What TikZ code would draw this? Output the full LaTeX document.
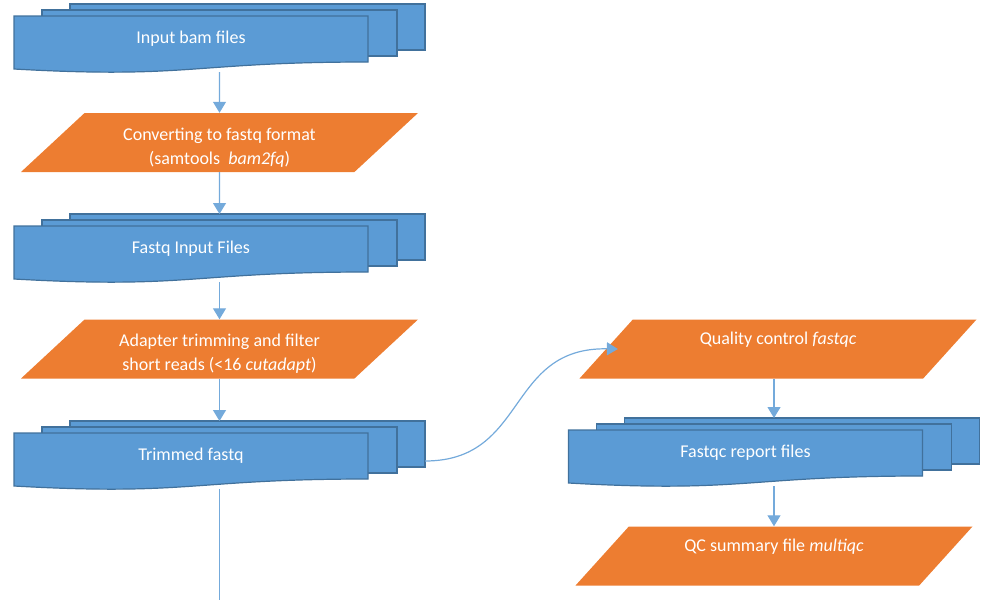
\documentclass[tikz,border=0pt]{standalone}
\usepackage{fontspec}
\setmainfont{Carlito}
\usetikzlibrary{arrows.meta, positioning, shapes.geometric}
\definecolor{docblue}{HTML}{5B9BD5}
\definecolor{docedge}{HTML}{41719C}
\definecolor{toolorange}{HTML}{ED7D31}
\newcommand{\labelfont}{\fontsize{18}{24}\selectfont}
\tikzset{
  docstack/.style={% invisible box round a stack of pages
    rectangle,
    minimum width=411pt,
    minimum height=68pt,
    inner sep=0pt,
    outer sep=0pt
    },
  page/.style={% one page of a stack
    draw=docedge,
    fill=docblue,
    line width=1.2pt
    },
  doctext/.style={% text on the front page
    text=white,
    font=\labelfont
    },
  tool/.style={% tool node
    trapezium,
    trapezium left angle=38,
    trapezium right angle=142,
    trapezium stretches body,
    minimum width=397pt,
    minimum height=59pt,
    fill=toolorange,
    text=white,
    font=\labelfont,
    align=center
    },
  toollow/.style={% two lines, set low
    tool,
    text height=43pt,
    text depth=0pt
    },
  toolhigh/.style={% one line, set high
    tool,
    text height=13pt,
    text depth=22pt
    },
  arrow/.style={% arrow format
    line width=1.2pt,
    draw=docblue!85!white,
    ->,
    >={Triangle[width=13pt,length=11pt]}
    }
}
\newcommand{\multidoc}[3]{% stack of pages: name, position, text
  \node[docstack] (#1) at (#2) {};
  \begin{scope}[shift={(#1.north west)}]
    \draw[page] (56,0) rectangle (411,46);
    \draw[page] (28,6) rectangle (383,52);
    \draw[page] (0,12) -- (354,12) -- (354,58)
      .. controls (177,58) and (177,75) .. (0,65) -- cycle;
    \node[doctext] (#1-text) at (177,35) {#3};
  \end{scope}
}

\begin{document}
\begin{tikzpicture}[x=1pt, y=-1pt]
\useasboundingbox (0,0) rectangle (987,600);

%%% Nodes
\multidoc{bam}{219.5,38}{Input bam files}
\node[toollow] (convert) at (219.5,142.5) {Converting to fastq format\\(samtools\ \ \emph{bam2fq})};
\multidoc{fastq}{219.5,248}{Fastq Input Files}
\node[toollow] (trim) at (219.5,349) {Adapter trimming and filter\\short reads (<16 \emph{cutadapt})};
\multidoc{trimmed}{219.5,455}{Trimmed fastq}
\coordinate (more) at (219.5,600);
\node[toolhigh] (qc) at (778,349) {Quality control \emph{fastqc}};
\multidoc{report}{774,452}{Fastqc report files}
\node[toolhigh] (summary) at (774,556) {QC summary file \emph{multiqc}};

%%% Arrows
\draw[arrow] (bam) -- (convert);
\draw[arrow] (convert) -- (fastq);
\draw[arrow] (fastq) -- (trim);
\draw[arrow] (trim) -- (trimmed);
\draw[arrow, -] (trimmed) -- (more);
\draw[arrow] ([yshift=-6pt]trimmed.east) .. controls +(103,0) and +(-112,-2) .. ([xshift=12pt]qc.west);
\draw[arrow] (qc.south -| report) -- (report);
\draw[arrow] (report) -- (summary);

\end{tikzpicture}
\end{document}
